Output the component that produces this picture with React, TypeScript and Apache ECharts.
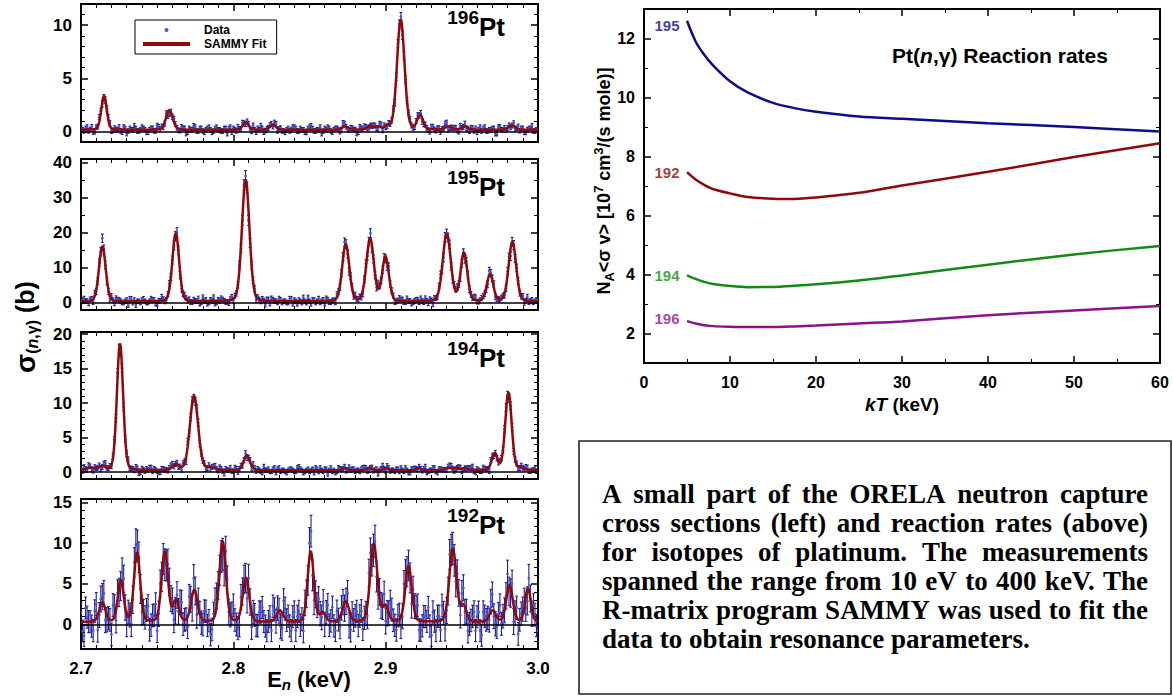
import React, { useEffect, useRef } from "react";
import * as echarts from "echarts";

const SANS = "'Liberation Sans', Arial, Helvetica, sans-serif";
const SERIF = "'Liberation Serif', 'Times New Roman', Times, serif";
const DOT = "#4a5ac8";
const ERR = "#1c1e9a";
const FIT = "#8e0a0a";

// ---------------- left: cross sections ----------------
const energyMin = 2.7;
const energyMax = 3.0;
const energyTicks = [2.7, 2.8, 2.9, 3.0];
const isotopes = ["196", "195", "194", "192"];
const sigmaRange = [[-1, 12], [-2, 41], [-1, 20.3], [-3, 15.4]];
const sigmaMajor = [[0, 5, 10], [0, 10, 20, 30, 40], [0, 5, 10, 15, 20], [0, 5, 10, 15]];
const sigmaMinor = [
  [1, 2, 3, 4, 6, 7, 8, 9, 11],
  [5, 15, 25, 35],
  [1, 2, 3, 4, 6, 7, 8, 9, 11, 12, 13, 14, 16, 17, 18, 19],
  [-2, -1, 1, 2, 3, 4, 6, 7, 8, 9, 11, 12, 13, 14],
];

// resonances: [E (keV), peak height (b), FWHM (keV)]
const res196 = [
  [2.7151, 3.2, 0.0042], [2.758, 1.85, 0.0052], [2.8081, 0.7, 0.0045], [2.8259, 0.45, 0.005],
  [2.8733, 0.3, 0.0045], [2.8898, 0.35, 0.0045], [2.895, 0.25, 0.004], [2.901, 0.3, 0.004],
  [2.9099, 10.4, 0.0058], [2.9226, 1.35, 0.0045], [2.9412, 0.3, 0.005], [2.9521, 0.3, 0.005],
  [2.9828, 0.4, 0.005],
];
const res195 = [
  [2.714, 15.8, 0.0052], [2.7622, 19.5, 0.0052], [2.8081, 34.8, 0.0058], [2.8738, 16.3, 0.0055],
  [2.8898, 17.8, 0.0058], [2.8999, 12.6, 0.0052], [2.9401, 19.2, 0.0062], [2.9514, 13.8, 0.0052],
  [2.9685, 7.6, 0.005], [2.9832, 17.0, 0.0058],
];
const res194 = [
  [2.706, 0.35, 0.006], [2.7136, 0.55, 0.005], [2.7256, 18.4, 0.0048], [2.7622, 0.8, 0.005],
  [2.7742, 10.8, 0.0064], [2.785, 0.4, 0.006], [2.8088, 2.1, 0.005], [2.8733, 0.35, 0.004],
  [2.8893, 0.4, 0.004], [2.9002, 0.3, 0.004], [2.9216, 0.35, 0.004], [2.9412, 0.35, 0.005],
  [2.9467, 0.35, 0.004], [2.9521, 0.3, 0.004], [2.9716, 2.4, 0.0045], [2.9806, 11.3, 0.005],
  [2.9888, 0.35, 0.004],
];
const res192 = [
  [2.714, 2.4, 0.0048], [2.7261, 5.1, 0.0045], [2.7368, 8.5, 0.0048], [2.755, 8.6, 0.005],
  [2.7624, 2.6, 0.0045], [2.7744, 3.9, 0.005], [2.793, 9.9, 0.005], [2.8083, 5.4, 0.005],
  [2.8306, 1.4, 0.005], [2.8508, 8.7, 0.0048], [2.8586, 1.1, 0.0045], [2.8738, 2.5, 0.005],
  [2.8922, 9.6, 0.0055], [2.8998, 1.9, 0.0045], [2.915, 6.9, 0.005], [2.9441, 9.0, 0.0055],
  [2.9511, 1.9, 0.0045], [2.9702, 1.4, 0.005], [2.9813, 4.5, 0.005], [2.9934, 4.1, 0.0045],
];
const resonances = [res196, res195, res194, res192];
const background = [0.15, 0.4, 0.25, 0.3];
// uncertainty per panel: [constant part, part per sqrt(sigma)]
const errModel = [[0.18, 0.07], [0.5, 0.18], [0.25, 0.1], [1.2, 0.25]];
// spread of the points about the fit, per panel, in units of their uncertainty
const noiseScale = [0.6, 0.6, 0.6, 0.42];
const dataStep = 0.001;
const fitStep = 0.0005;

// scatter of the measured points about the fit
// (even-numbered channels: "a", odd-numbered channels: "b")
const noise196a = [
  1, -1, 2, 0, -2, 1, 3, -1, 0, 2, -2, 1, 0, -1, 2, -3, 1, 0, 1, -1,
  2, 0, -2, 1, -1, 3, 0, -1, 2, -2, 0, 1, -1, 2, 1, -2, 0, 3, -1, 1,
  -1, 0, 2, -2, 1, 0, -1, 1, -3, 2, 1, -1, 0, 2, -1, 1, -2, 0, 1, 3,
  -2, 0, 1, -1, 2, 0, -1, -2, 1, 0, 2, -1, 1, 0, -2, 2, 1, -1, 0, -3,
  1, 2, -1, 0, 1, -2, 3, 0, -1, 1, 0, -2, 1, 2, -1, 0, 1, -1, 2, -2,
  -1, 1, 0, -3, 2, 1, -1, 0, 2, -1, 1, 0, -2, 1, -1, 2, 0, 1, -2, 0,
  3, -1, 0, 1, -2, 0, 2, -1, 1, -1, -2, 2, 1, -1, 0, 1, -3, 2, 0, 1,
  0, -1, 2, 0, -1, 1, -2, 1, 3, -1, 0,
];
const noise196b = [
  0, 1, -1, 2, -2, 0, 1, -1, 1, 2, -1, 0, 2, -2, 1, -1, 0, 3, -1, 0,
  1, -2, 0, 1, -1, 2, 1, -1, -2, 0, 2, 0, -1, 1, -3, 1, 0, 2, -1, 1,
  -2, 1, 0, -1, 2, 0, -1, 1, 1, -2, 0, 2, -1, 0, 1, -1, 3, -2, 0, 1,
  -1, 0, 1, 2, -2, 1, -1, 0, -1, 2, 1, -1, 0, -2, 1, 3, -1, 0, 2, -1,
  0, 1, -2, 1, 0, -1, 2, -1, 1, 0, -3, 2, 0, 1, -1, 0, 1, -2, 2, 1,
  -1, 0, 2, -1, 1, -2, 0, 1, 0, -1, 2, 1, -1, 0, -2, 2, -1, 1, 0, 3,
  -2, 0, 1, -1, 2, 0, -1, -2, 1, 1, 0, -1, 2, -1, 0, 1, -3, 2, 0, -1,
  1, 0, -1, 2, 1, -2, 0, 1, -1, 0,
];
const noise195a = [
  -1, 2, 0, 1, -2, -1, 1, 3, 0, -1, 2, -2, 1, 0, -1, 1, 2, -1, -3, 0,
  1, 0, -1, 2, 1, -2, 0, 1, -1, 3, 0, -1, 1, -2, 2, 0, -1, 1, 0, -2,
  3, 1, -1, 0, -2, 1, 2, 0, -1, 1, -1, 0, 2, -1, 1, -3, 0, 2, 1, -1,
  0, 1, -2, 1, 0, 2, -1, 0, -1, 2, 1, -2, 0, 3, -1, 0, 1, -1, 2, 0,
  -2, 1, -1, 0, 2, -1, 1, 0, -3, 1, 2, 0, -1, 1, -1, 2, 0, -2, 1, 0,
  -1, 3, 1, -2, 0, 1, -1, 2, 0, -1, 1, -1, 0, 2, -2, 0, 1, -1, 3, -2,
  0, 2, -1, 1, 0, -1, -2, 1, 0, 2, -1, 0, 1, -1, 2, 1, -2, 0, 1, -1,
  2, -3, 0, 1, -1, 2, 0, -1, 1, 0, 1,
];
const noise195b = [
  1, 0, -2, 1, 2, -1, 0, 1, -1, -2, 0, 2, 1, -1, 0, -3, 2, 1, 0, -1,
  2, -1, 0, 1, -2, 0, 3, -1, 1, 0, -1, 2, -2, 0, 1, 1, -1, 0, 2, -1,
  0, -2, 1, 3, -1, 0, 1, -1, -2, 2, 1, 0, -1, 2, 0, -1, 1, -2, 0, 1,
  -3, 1, 2, 0, -1, 1, 0, -1, 2, -2, 0, 1, -1, 0, 3, -2, 1, 0, -1, 1,
  2, -1, 0, -2, 1, 0, 2, -1, 1, -1, 0, 1, -2, 2, 0, -1, -1, 3, 0, 1,
  -2, 0, 1, -1, 2, 1, -1, 0, -2, 0, 1, 2, -1, 0, 1, -3, 0, 2, -1, 1,
  0, -1, 1, 2, -2, 0, 1, -1, 0, 2, -1, 1, 0, -2, 1, 2, -1, 0, 1, -1,
  2, 0, -1, 1, 0, -2, 3, 0, -1, 1,
];
const noise194a = [
  0, 2, -1, 1, -2, 0, 1, -1, 3, 0, -1, 1, 2, -2, 0, 1, -1, 0, 2, -3,
  1, -1, 0, 2, 1, -1, -2, 1, 0, 1, 2, 0, -1, -2, 1, 3, 0, -1, 1, -1,
  0, -2, 1, 0, 2, -1, 1, -3, 0, 2, -1, 1, 0, -1, 2, 0, -2, 1, 1, -1,
  3, 0, -1, 1, -2, 2, 0, -1, 0, 1, -1, 2, 1, -2, 0, -1, 1, 2, -1, 0,
  1, -3, 2, 0, -1, 1, 0, -2, 2, 1, -1, 0, 1, 2, -2, 0, -1, 1, 0, 3,
  -2, 1, 0, -1, 1, 2, -1, 0, -2, 1, 0, 1, -1, 3, -1, 0, 2, -2, 1, 0,
  -1, 2, 0, -1, 1, -2, 0, 1, 2, -1, 1, -1, 2, 0, -3, 1, 0, -1, 1, 2,
  0, 1, -2, 1, -1, 0, 2, -1, 0, 1, -1,
];
const noise194b = [
  -1, 0, 2, -1, 1, 0, -2, 2, 0, 1, 1, -2, 0, 1, -1, 3, 0, -1, 1, -2,
  0, 1, 2, -1, 0, -2, 1, 0, -1, 2, -1, 1, 0, 2, -3, 0, 1, -1, 2, 0,
  1, -1, -2, 1, 0, 2, -1, 1, 0, -1, 2, -2, 1, 0, -1, 1, 3, -1, 0, -2,
  0, 1, -1, 2, 1, -1, 0, -2, 1, 0, -1, 3, 0, -1, 1, 0, -2, 1, 2, -1,
  1, 0, -1, -2, 2, 0, 1, -1, 0, 1, 0, -1, 2, 1, -2, 1, 0, -3, 1, 0,
  2, -1, 0, 1, -1, 0, 2, -2, 1, 1, -1, 0, 1, -2, 0, 2, -1, 1, 0, -1,
  1, 2, -2, 0, 1, -1, 0, 1, 3, -2, 0, -1, 1, 0, 2, -1, -1, 1, 0, 2,
  -2, 1, 0, -1, 1, 0, 2, -1, 0, -1,
];
const noise192a = [
  2, -3, 1, 0, -2, 3, -1, 1, -2, 0, -3, 2, 1, -1, 3, -2, 0, -1, 2, 1,
  -2, 0, 3, -1, 1, -3, 2, 0, -1, 2, 1, -2, -1, 3, 0, -2, 1, 2, -3, 0,
  -1, 2, 0, -2, 3, 1, -1, -3, 2, 0, 3, -1, -2, 1, 0, 2, -3, 1, -1, 2,
  0, -2, 1, 3, -1, 0, -3, 2, 1, -2, 2, 1, -1, -3, 0, 2, -2, 1, 3, -1,
  -2, 3, 0, -1, 2, -2, 1, 0, -3, 1, 1, -1, 2, 0, -2, 3, -1, -2, 1, 0,
  -3, 0, 2, -1, 1, -2, 3, 0, -1, 2, 2, -2, -1, 1, 3, -3, 0, 1, -2, 1,
  -1, 3, 0, -2, 1, 2, -1, -3, 0, 2, 1, -2, 2, 0, -1, 3, -2, 1, -1, 0,
  3, -1, -3, 2, 0, 1, -2, 2, -1, 1, -2,
];
const noise192b = [
  -2, 3, 0, -1, 2, -3, 1, 2, -1, 0, 3, -2, -1, 2, 0, 1, -3, 2, 1, -1,
  0, 2, -2, 1, 3, -1, 0, -2, 2, 1, -3, 1, 2, -1, 0, 3, -2, 0, 1, -1,
  2, -1, -3, 1, 2, 0, -2, 3, -1, 1, 0, -2, 2, 1, -3, 0, 1, -1, 2, 3,
  -1, 0, -2, 2, 1, -3, 3, 0, -1, 1, -2, 2, 0, 1, -1, 3, -3, 1, 0, 2,
  1, -1, 3, -2, 0, 1, -1, 2, -3, 0, 2, 1, -2, 0, 3, -1, 1, -2, 0, 2,
  -1, 3, 0, -2, 1, -1, 2, 0, -3, 1, 3, -2, 1, 0, -1, 2, -2, 1, 3, -3,
  0, 1, -1, 2, -2, 3, 0, -1, 1, -2, 2, -3, 1, 0, 2, -1, -2, 3, 0, 1,
  -1, 2, 0, -3, 1, 1, -2, 0, 2, -1,
];
const noisesA = [noise196a, noise195a, noise194a, noise192a];
const noisesB = [noise196b, noise195b, noise194b, noise192b];

// ---------------- right: reaction rates ----------------
const kT = [5, 6, 7, 8, 10, 12, 15, 17.5, 20, 25, 30, 40, 50, 60];
const rate195 = [12.6, 11.9, 11.45, 11.1, 10.55, 10.18, 9.82, 9.64, 9.52, 9.36, 9.28, 9.13, 9.0, 8.85];
const rate192 = [7.47, 7.22, 7.04, 6.9, 6.75, 6.63, 6.57, 6.56, 6.61, 6.77, 7.02, 7.48, 7.98, 8.45];
const rate194 = [3.97, 3.85, 3.75, 3.68, 3.61, 3.57, 3.58, 3.62, 3.67, 3.8, 3.97, 4.33, 4.68, 4.97];
const rate196 = [2.42, 2.34, 2.28, 2.25, 2.23, 2.22, 2.22, 2.24, 2.27, 2.34, 2.41, 2.62, 2.78, 2.93];
const rateNames = ["195", "192", "194", "196"];
const rateValues = [rate195, rate192, rate194, rate196];
const rateColors = ["#0c0c8c", "#8e0a0a", "#138a13", "#8c128c"];
const rateLabelOffset = [[0, 5], [0, 0], [0, 0], [0, -3]];
const kTTicks = [0, 10, 20, 30, 40, 50, 60];
const rateMajor = [2, 4, 6, 8, 10, 12];
const rateMinor = [3, 5, 7, 9, 11];

const NOTE_LINES = [
  "A small part of the ORELA neutron capture",
  "cross sections (left) and reaction rates (above)",
  "for isotopes of platinum. The measurements",
  "spanned the range from 10 eV to 400 keV. The",
  "R-matrix program SAMMY was used to fit the",
  "data to obtain resonance parameters.",
];

// ---------------- layout ----------------
const LEFT_X = 81;
const LEFT_W = 457;
const gridTops = [4, 159, 332, 499];
const gridHeights = [138, 151, 147, 150];
const isoLabelY = [27, 187, 358, 525];

function fitValue(res: number[][], base: number, e: number) {
  let s = base;
  for (const [c, h, w] of res) {
    const d = (e - c) / w;
    s += h * (0.85 * Math.exp(-2.7726 * d * d) + 0.15 / (1 + 4 * d * d));
  }
  return s;
}

const black = "#000";
const labelFont = { color: black, fontFamily: SANS, fontWeight: "bold" as const };

function yAxesFor(grid: number, min: number, max: number, majors: number[], minors: number[], labelSize: number, labelMargin: number) {
  const base = (pos: string) => ({
    type: "value", gridIndex: grid, position: pos, min, max,
    splitLine: { show: false }, minorSplitLine: { show: false },
  });
  return [
    {
      ...base("left"),
      axisLine: { show: true, onZero: false, lineStyle: { color: black, width: 2 } },
      axisTick: { show: true, inside: true, length: 7, customValues: majors, lineStyle: { color: black, width: 1.5 } },
      axisLabel: { show: true, customValues: majors, margin: labelMargin, fontSize: labelSize, ...labelFont },
    },
    {
      ...base("left"),
      axisLine: { show: false, onZero: false },
      axisTick: { show: true, inside: true, length: 4, customValues: minors, lineStyle: { color: black, width: 1 } },
      axisLabel: { show: false },
    },
    {
      ...base("right"),
      axisLine: { show: true, onZero: false, lineStyle: { color: black, width: 2 } },
      axisTick: { show: true, inside: true, length: 7, customValues: majors, lineStyle: { color: black, width: 1.5 } },
      axisLabel: { show: false },
    },
    {
      ...base("right"),
      axisLine: { show: false, onZero: false },
      axisTick: { show: true, inside: true, length: 4, customValues: minors, lineStyle: { color: black, width: 1 } },
      axisLabel: { show: false },
    },
  ];
}

function noteGraphics() {
  const size = 27;
  const ctx = document.createElement("canvas").getContext("2d")!;
  ctx.font = `bold ${size}px ${SERIF}`;
  const els: any[] = [];
  const x0 = 602;
  const width = 546;
  NOTE_LINES.forEach((line, li) => {
    const y = 494 + li * 29;
    const words = line.split(" ");
    const widths = words.map((w) => ctx.measureText(w).width);
    const total = widths.reduce((a, b) => a + b, 0);
    const last = li === NOTE_LINES.length - 1;
    const gap = last ? ctx.measureText(" ").width : (width - total) / (words.length - 1);
    let x = x0;
    words.forEach((w, i) => {
      els.push({
        type: "text", x, y, silent: true,
        style: { text: w, fontSize: size, fontWeight: "bold", fontFamily: SERIF, fill: black, verticalAlign: "middle", align: "left" },
      });
      x += widths[i] + gap;
    });
  });
  return els;
}

function buildOption() {
  const grids: any[] = [];
  const xAxes: any[] = [];
  const yAxes: any[] = [];
  const series: any[] = [];

  for (let i = 0; i < 4; i++) {
    grids.push({ left: LEFT_X, top: gridTops[i], width: LEFT_W, height: gridHeights[i], outerBoundsMode: "none", containLabel: false });
    for (const pos of ["bottom", "top"]) {
      xAxes.push({
        type: "value", gridIndex: i, position: pos, min: energyMin, max: energyMax, interval: 0.1,
        axisLine: { show: true, onZero: false, lineStyle: { color: black, width: 2 } },
        axisTick: { show: true, inside: true, length: 7, lineStyle: { color: black, width: 1.5 } },
        minorTick: { show: true, splitNumber: 10, length: 4, lineStyle: { color: black, width: 1 } },
        axisLabel: {
          show: pos === "bottom" && i === 3, customValues: energyTicks, margin: 11,
          formatter: (v: number) => v.toFixed(1), fontSize: 17, ...labelFont,
        },
        splitLine: { show: false }, minorSplitLine: { show: false },
      });
    }
    yAxes.push(...yAxesFor(i, sigmaRange[i][0], sigmaRange[i][1], sigmaMajor[i], sigmaMinor[i], 17, 9));

    const res = resonances[i];
    const [s0, s1] = errModel[i];
    const na = noisesA[i];
    const nb = noisesB[i];
    const points: number[][] = [];
    const nData = na.length + nb.length;
    for (let k = 0; k < nData; k++) {
      const n = k % 2 === 0 ? na[k / 2] : nb[(k - 1) / 2];
      const e = energyMin + k * dataStep;
      const f = fitValue(res, background[i], e);
      const sig = s0 + s1 * Math.sqrt(Math.max(f, 0));
      points.push([e, f + n * noiseScale[i] * sig, sig]);
    }
    const fit: number[][] = [];
    const nFit = Math.round((energyMax - energyMin) / fitStep);
    for (let k = 0; k <= nFit; k++) {
      const e = energyMin + k * fitStep;
      fit.push([e, fitValue(res, background[i], e)]);
    }

    series.push({
      type: "custom", name: "Data", xAxisIndex: 2 * i, yAxisIndex: 4 * i, z: 2, clip: true,
      itemStyle: { color: DOT },
      encode: { x: 0, y: 1 },
      data: points,
      renderItem: (params: any, api: any) => {
        const x = api.value(0);
        const y = api.value(1);
        const s = api.value(2);
        const p = api.coord([x, y]);
        const t = api.coord([x, y + s]);
        const b = api.coord([x, y - s]);
        const st = { stroke: ERR, lineWidth: 1.1 };
        return {
          type: "group",
          children: [
            { type: "line", shape: { x1: p[0], y1: t[1], x2: p[0], y2: b[1] }, style: st },
            { type: "line", shape: { x1: p[0] - 1.4, y1: t[1], x2: p[0] + 1.4, y2: t[1] }, style: st },
            { type: "line", shape: { x1: p[0] - 1.4, y1: b[1], x2: p[0] + 1.4, y2: b[1] }, style: st },
            { type: "circle", shape: { cx: p[0], cy: p[1], r: 1.4 }, style: { fill: DOT } },
          ],
        };
      },
    });
    series.push({
      type: "line", name: "zero" + i, xAxisIndex: 2 * i, yAxisIndex: 4 * i, z: 3, data: [],
      markLine: {
        silent: true, symbol: ["none", "none"], label: { show: false },
        lineStyle: { color: black, width: 1.6, type: "solid" },
        data: [{ yAxis: 0 }],
      },
    });
    series.push({
      type: "line", name: "SAMMY Fit", xAxisIndex: 2 * i, yAxisIndex: 4 * i, z: 4,
      showSymbol: false, symbol: "none", clip: true,
      lineStyle: { color: FIT, width: 2.5 }, itemStyle: { color: FIT },
      data: fit,
    });
  }

  // right chart
  grids.push({ left: 644, top: 9, width: 516, height: 354, outerBoundsMode: "none", containLabel: false });
  for (const pos of ["bottom", "top"]) {
    xAxes.push({
      type: "value", gridIndex: 4, position: pos, min: 0, max: 60, interval: 10,
      axisLine: { show: true, onZero: false, lineStyle: { color: black, width: 2 } },
      axisTick: { show: true, inside: true, length: 7, lineStyle: { color: black, width: 1.5 } },
      minorTick: { show: true, splitNumber: 2, length: 4, lineStyle: { color: black, width: 1 } },
      axisLabel: { show: pos === "bottom", customValues: kTTicks, margin: 11, fontSize: 16, ...labelFont },
      splitLine: { show: false }, minorSplitLine: { show: false },
    });
  }
  yAxes.push(...yAxesFor(4, 1, 13, rateMajor, rateMinor, 16, 9));

  rateValues.forEach((vals, j) => {
    series.push({
      type: "line", name: "rate" + rateNames[j], xAxisIndex: 8, yAxisIndex: 16, z: 3,
      showSymbol: false, symbol: "none", smooth: 0.3,
      lineStyle: { color: rateColors[j], width: 2.5 },
      data: kT.map((t, k) => [t, vals[k]]),
    });
    series.push({
      type: "scatter", name: "label" + rateNames[j], xAxisIndex: 8, yAxisIndex: 16, z: 3,
      symbolSize: 1, itemStyle: { color: "rgba(0,0,0,0)" }, silent: true,
      label: {
        show: true, position: "left", distance: 7, offset: rateLabelOffset[j], formatter: rateNames[j],
        color: rateColors[j], fontFamily: SANS, fontWeight: "bold", fontSize: 15,
      },
      data: [[kT[0], vals[0]]],
    });
  });

  const graphic: any[] = [];
  isotopes.forEach((iso, i) => {
    graphic.push({
      type: "text", x: 505, y: isoLabelY[i], silent: true,
      style: {
        text: `{s|${iso}}{p|Pt}`, align: "right", verticalAlign: "middle",
        rich: {
          s: { fontSize: 19, fontFamily: SANS, fontWeight: "bold", fill: black, lineHeight: 18, verticalAlign: "top" },
          p: { fontSize: 26, fontFamily: SANS, fontWeight: "bold", fill: black, lineHeight: 38, verticalAlign: "middle" },
        },
      },
    });
  });
  // left y title
  graphic.push({
    type: "text", x: 25, y: 327, rotation: Math.PI / 2, silent: true,
    style: {
      text: "{s|σ}{sub|(}{subi|n}{sub|,γ)}{b| (b)}", align: "center", verticalAlign: "middle",
      rich: {
        s: { fontSize: 28, fontFamily: SANS, fontWeight: "bold", fill: black, lineHeight: 30, verticalAlign: "middle" },
        sub: { fontSize: 16, fontFamily: SANS, fontWeight: "bold", fill: black, lineHeight: 16, verticalAlign: "bottom" },
        subi: { fontSize: 16, fontFamily: SANS, fontWeight: "bold", fontStyle: "italic", fill: black, lineHeight: 16, verticalAlign: "bottom" },
        b: { fontSize: 25, fontFamily: SANS, fontWeight: "bold", fill: black, lineHeight: 30, verticalAlign: "middle" },
      },
    },
  });
  // left x title
  graphic.push({
    type: "text", x: 309, y: 679, silent: true,
    style: {
      text: "{e|E}{n|n}{k| (keV)}", align: "center", verticalAlign: "middle",
      rich: {
        e: { fontSize: 22, fontFamily: SANS, fontWeight: "bold", fill: black, lineHeight: 26, verticalAlign: "middle" },
        n: { fontSize: 15, fontFamily: SANS, fontWeight: "bold", fontStyle: "italic", fill: black, lineHeight: 14, verticalAlign: "bottom" },
        k: { fontSize: 22, fontFamily: SANS, fontWeight: "bold", fill: black, lineHeight: 26, verticalAlign: "middle" },
      },
    },
  });
  // right title
  graphic.push({
    type: "text", x: 1000, y: 55, silent: true,
    style: {
      text: "{t|Pt(}{i|n}{t|,γ) Reaction rates}", align: "center", verticalAlign: "middle",
      rich: {
        t: { fontSize: 21, fontFamily: SANS, fontWeight: "bold", fill: black },
        i: { fontSize: 21, fontFamily: SANS, fontWeight: "bold", fontStyle: "italic", fill: black },
      },
    },
  });
  // right y title
  graphic.push({
    type: "text", x: 604, y: 181, rotation: Math.PI / 2, silent: true,
    style: {
      text: "{t|N}{sub|A}{t|<σ v> [10}{sup|7}{t| cm}{sup|3}{t|/(s mole)]}", align: "center", verticalAlign: "middle",
      rich: {
        t: { fontSize: 18, fontFamily: SANS, fontWeight: "bold", fill: black, lineHeight: 24, verticalAlign: "middle" },
        sub: { fontSize: 13, fontFamily: SANS, fontWeight: "bold", fill: black, lineHeight: 12, verticalAlign: "bottom" },
        sup: { fontSize: 13, fontFamily: SANS, fontWeight: "bold", fill: black, lineHeight: 12, verticalAlign: "top" },
      },
    },
  });
  // right x title
  graphic.push({
    type: "text", x: 902, y: 404, silent: true,
    style: {
      text: "{i|kT}{t| (keV)}", align: "center", verticalAlign: "middle",
      rich: {
        i: { fontSize: 19, fontFamily: SANS, fontWeight: "bold", fontStyle: "italic", fill: black },
        t: { fontSize: 19, fontFamily: SANS, fontWeight: "bold", fill: black },
      },
    },
  });
  // note box
  graphic.push({
    type: "rect", shape: { x: 579, y: 441, width: 592, height: 253 }, silent: true,
    style: { fill: "none", stroke: "#222", lineWidth: 1.6 },
  });
  graphic.push(...noteGraphics());

  return {
    animation: false,
    backgroundColor: "#fff",
    grid: grids,
    xAxis: xAxes,
    yAxis: yAxes,
    series,
    legend: {
      show: true, orient: "vertical", left: 135, top: 20, padding: [4, 10, 4, 8], itemGap: 2,
      itemWidth: 47, itemHeight: 4, borderColor: black, borderWidth: 1, borderRadius: 0, backgroundColor: "#fff",
      selectedMode: false,
      textStyle: { fontFamily: SANS, fontWeight: "bold", fontSize: 12, color: black, padding: [0, 0, 0, 9] },
      data: [
        { name: "Data", icon: "circle", itemStyle: { color: DOT } },
        { name: "SAMMY Fit", icon: "rect", itemStyle: { color: FIT } },
      ],
    },
    graphic,
  };
}

export default function App() {
  const ref = useRef<HTMLDivElement>(null);
  useEffect(() => {
    document.body.style.margin = "0";
    const chart = echarts.init(ref.current!, undefined, { renderer: "svg" });
    chart.setOption(buildOption() as any);
    return () => chart.dispose();
  }, []);
  return <div ref={ref} style={{ width: 1173, height: 696 }} />;
}
